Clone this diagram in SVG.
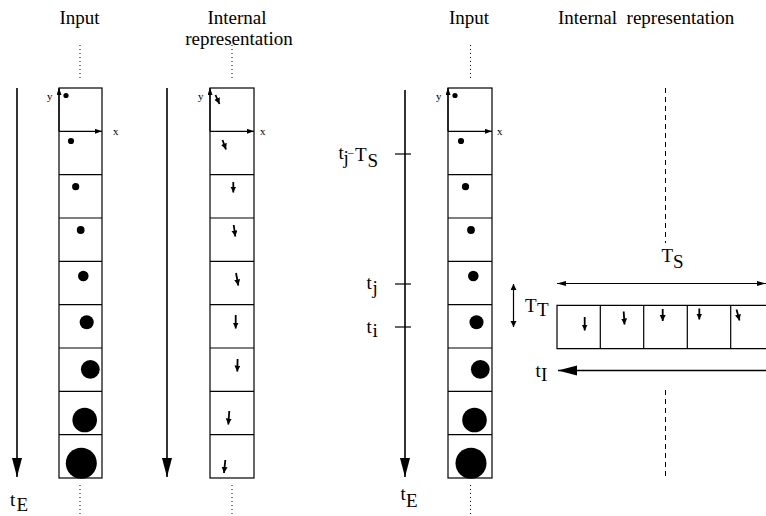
<svg xmlns="http://www.w3.org/2000/svg" width="766" height="516" viewBox="0 0 766 516">
<defs>
<marker id="big" markerUnits="userSpaceOnUse" markerWidth="20" markerHeight="11" refX="19" refY="5" orient="auto"><path d="M0,0 L19,5 L0,10 z" fill="#000"/></marker>
<marker id="ax" markerUnits="userSpaceOnUse" markerWidth="8" markerHeight="6" refX="7" refY="2.5" orient="auto"><path d="M0,0 L7,2.5 L0,5 z" fill="#000"/></marker>
<marker id="gl" markerUnits="userSpaceOnUse" markerWidth="8" markerHeight="7" refX="6" refY="3" orient="auto"><path d="M0,0 L6,3 L0,6 z" fill="#000"/></marker>
<marker id="thin" markerUnits="userSpaceOnUse" markerWidth="10" markerHeight="6" refX="9" refY="2.5" orient="auto"><path d="M0,0 L9,2.5 L0,5 z" fill="#000"/></marker>
</defs>
<style>
.t{font-family:"Liberation Serif","Times New Roman",serif;fill:#000}
.h{font-size:19px}
.s{font-size:11px}
.l{font-size:19px}
.box{fill:none;stroke:#000;stroke-width:1.2}
.ln{stroke:#000;stroke-width:1.2;fill:none}
.tl{stroke:#000;stroke-width:1.6;fill:none}
.dot{stroke:#000;stroke-width:1;stroke-dasharray:1 3;fill:none}
.dash{stroke:#000;stroke-width:1;stroke-dasharray:5 4;fill:none}
.g{stroke:#000;stroke-width:1.8;fill:none}
</style>

<g id="titles">
<text class="t h" x="79.5" y="24" text-anchor="middle">Input</text>
<text class="t h" x="237" y="24" text-anchor="middle">Internal</text>
<text class="t h" x="239" y="45" text-anchor="middle">representation</text>
<text class="t h" x="469" y="24" text-anchor="middle">Input</text>
<text class="t h" x="558" y="24" xml:space="preserve">Internal  representation</text>
</g>

<g id="connectors">
<line class="tl" x1="17" y1="88" x2="17" y2="477" marker-end="url(#big)"/>
<line class="tl" x1="167" y1="88" x2="167" y2="477" marker-end="url(#big)"/>
<line class="tl" x1="405" y1="90" x2="405" y2="477" marker-end="url(#big)"/>
<line class="dot" x1="80" y1="45" x2="80" y2="78"/>
<line class="dot" x1="80" y1="485" x2="80" y2="516"/>
<line class="dot" x1="232" y1="45" x2="232" y2="78"/>
<line class="dot" x1="232" y1="485" x2="232" y2="516"/>
<line class="dot" x1="470.5" y1="45" x2="470.5" y2="78"/>
<line class="dot" x1="470.5" y1="485" x2="470.5" y2="516"/>
<line class="dash" x1="665.5" y1="88" x2="665.5" y2="243"/>
<line class="dash" x1="665.5" y1="390" x2="665.5" y2="476"/>
<line class="ln" x1="395" y1="154" x2="411" y2="154"/>
<line class="ln" x1="395" y1="284" x2="411" y2="284"/>
<line class="ln" x1="395" y1="327" x2="411" y2="327"/>
<line class="ln" x1="660" y1="283.5" x2="557" y2="283.5" marker-end="url(#thin)"/>
<line class="ln" x1="660" y1="283.5" x2="766" y2="283.5" marker-end="url(#thin)"/>
<line class="ln" x1="513.5" y1="305" x2="513.5" y2="284" marker-end="url(#gl)"/>
<line class="ln" x1="513.5" y1="305" x2="513.5" y2="327" marker-end="url(#gl)"/>
<line class="tl" x1="766" y1="370.5" x2="558" y2="370.5" marker-end="url(#big)"/>
</g>

<g id="input-left">
<rect class="box" x="59" y="88" width="43" height="390"/>
<path class="ln" d="M59,174.7H102M59,218H102M59,261.3H102M59,304.7H102M59,348H102M59,391.3H102M59,434.7H102"/>
<line class="ln" x1="59" y1="131.3" x2="102" y2="131.3" marker-end="url(#ax)"/>
<line class="ln" x1="59" y1="131.3" x2="59" y2="88" marker-end="url(#ax)"/>
<text class="t s" x="47" y="100">y</text>
<text class="t s" x="113" y="135">x</text>
<circle cx="66" cy="95.5" r="2.6"/>
<circle cx="71" cy="141" r="3.1"/>
<circle cx="75.7" cy="186.7" r="3.6"/>
<circle cx="80.7" cy="230" r="3.9"/>
<circle cx="83.3" cy="276" r="5.3"/>
<circle cx="86.7" cy="322.3" r="7"/>
<circle cx="90.3" cy="369.3" r="9.4"/>
<circle cx="84.7" cy="420" r="12.3"/>
<circle cx="81.3" cy="463.3" r="15.5"/>
</g>

<g id="internal-left">
<rect class="box" x="210" y="88" width="44" height="390"/>
<path class="ln" d="M210,174.7H254M210,218H254M210,261.3H254M210,304.7H254M210,348H254M210,391.3H254M210,434.7H254"/>
<line class="ln" x1="210" y1="131.3" x2="254" y2="131.3" marker-end="url(#ax)"/>
<line class="ln" x1="210" y1="131.3" x2="210" y2="88" marker-end="url(#ax)"/>
<text class="t s" x="198" y="100">y</text>
<text class="t s" x="260" y="135">x</text>
<line class="g" x1="215.5" y1="95" x2="219.5" y2="104" marker-end="url(#gl)"/>
<line class="g" x1="222.5" y1="140" x2="226" y2="149.5" marker-end="url(#gl)"/>
<line class="g" x1="233.3" y1="182" x2="233.3" y2="192.5" marker-end="url(#gl)"/>
<line class="g" x1="233.7" y1="225" x2="235.3" y2="236.5" marker-end="url(#gl)"/>
<line class="g" x1="236" y1="273" x2="238.3" y2="285.5" marker-end="url(#gl)"/>
<line class="g" x1="235.7" y1="315" x2="235.7" y2="328.5" marker-end="url(#gl)"/>
<line class="g" x1="237.6" y1="359" x2="237.3" y2="371.5" marker-end="url(#gl)"/>
<line class="g" x1="229.3" y1="411" x2="228.3" y2="424.5" marker-end="url(#gl)"/>
<line class="g" x1="225.3" y1="460" x2="224" y2="473" marker-end="url(#gl)"/>
</g>

<g id="labels-left">
<text class="t l" x="10" y="505.5">t</text>
<text class="t l" x="16.5" y="511">E</text>
</g>

<g id="timeline-right">
<text class="t l" x="338.5" y="158.5">t</text>
<text class="t l" x="343.5" y="164">j</text>
<text class="t" x="347.5" y="157" font-size="12">−</text>
<text class="t l" x="355" y="161">T</text>
<text class="t l" x="367.5" y="166.5">S</text>
<text class="t l" x="366.5" y="289.3">t</text>
<text class="t l" x="372.5" y="294">j</text>
<text class="t l" x="366.5" y="333.3">t</text>
<text class="t l" x="372.5" y="336.7">i</text>
<text class="t l" x="400.5" y="500">t</text>
<text class="t l" x="406" y="506.7">E</text>
</g>

<g id="input-right">
<rect class="box" x="448" y="88" width="44" height="390"/>
<path class="ln" d="M448,174.7H492M448,218H492M448,261.3H492M448,304.7H492M448,348H492M448,391.3H492M448,434.7H492"/>
<line class="ln" x1="448" y1="131.3" x2="492" y2="131.3" marker-end="url(#ax)"/>
<line class="ln" x1="448" y1="131.3" x2="448" y2="88" marker-end="url(#ax)"/>
<text class="t s" x="436" y="100">y</text>
<text class="t s" x="497" y="135">x</text>
<circle cx="455" cy="95.5" r="2.6"/>
<circle cx="461" cy="141" r="3.1"/>
<circle cx="465.5" cy="186.7" r="3.6"/>
<circle cx="471" cy="230" r="3.9"/>
<circle cx="473.3" cy="276" r="5.3"/>
<circle cx="476.5" cy="322.3" r="7"/>
<circle cx="480.3" cy="369.3" r="9.4"/>
<circle cx="474.5" cy="420" r="12.3"/>
<circle cx="471" cy="463.3" r="15.5"/>
</g>

<g id="internal-right">
<path class="box" d="M766,305.3H557V348.7H766"/>
<path class="ln" d="M600.3,305.3V348.7M643.7,305.3V348.7M687.3,305.3V348.7M730.7,305.3V348.7"/>
<line class="g" x1="584.7" y1="317" x2="584.7" y2="330.5" marker-end="url(#gl)"/>
<line class="g" x1="623.7" y1="311.5" x2="624.5" y2="324.5" marker-end="url(#gl)"/>
<line class="g" x1="662.7" y1="309" x2="662.7" y2="321" marker-end="url(#gl)"/>
<line class="g" x1="699.3" y1="308.5" x2="699.3" y2="319.5" marker-end="url(#gl)"/>
<line class="g" x1="736.5" y1="309.5" x2="739.5" y2="320.5" marker-end="url(#gl)"/>
<text class="t l" x="661.5" y="261.7">T</text>
<text class="t l" x="673" y="268.3">S</text>
<text class="t l" x="525" y="311.7">T</text>
<text class="t l" x="537" y="316">T</text>
<text class="t l" x="535.5" y="376.7">t</text>
<text class="t l" x="541" y="380.7">I</text>
</g>
</svg>
